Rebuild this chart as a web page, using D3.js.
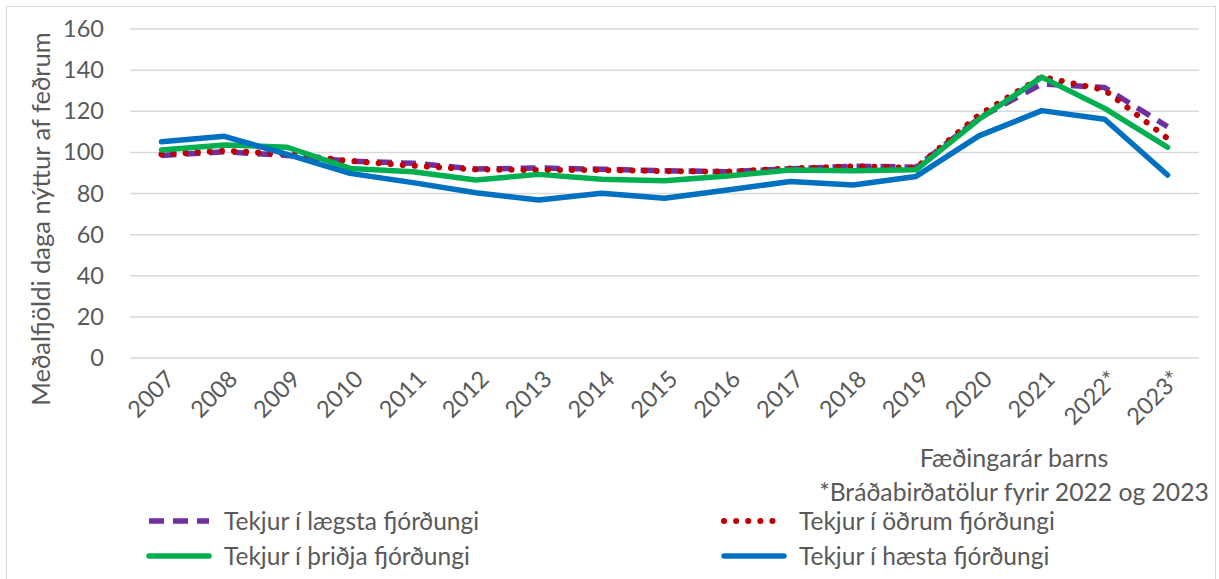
<!DOCTYPE html>
<html>
<head>
<meta charset="utf-8">
<script src="https://cdn.jsdelivr.net/npm/d3@7"></script>
<style>
  body { margin: 0; background: #fff; }
  text { font-family: Lato, "Open Sans", sans-serif; fill: #595959; }
</style>
</head>
<body>
<svg id="chart" width="1219" height="579"></svg>
<script>
// data
var years = ["2007","2008","2009","2010","2011","2012","2013","2014","2015","2016","2017","2018","2019","2020","2021","2022*","2023*"]
var laegsta = [98.5, 100.3, 98.5, 95.7, 94.7, 91.9, 92.4, 91.8, 91.1, 90.6, 92.0, 93.3, 92.8, 116.6, 133.3, 131.5, 112.5]
var odrum   = [99.0, 100.8, 99.2, 95.8, 93.5, 91.7, 91.4, 91.4, 90.9, 90.6, 92.2, 93.2, 92.5, 118.2, 136.8, 130.3, 106.8]
var thridja = [101.2, 103.6, 102.5, 92.2, 90.6, 86.6, 89.3, 86.9, 86.2, 88.5, 91.4, 91.1, 91.5, 116.1, 136.6, 121.4, 102.5]
var haesta  = [105.2, 107.8, 99.0, 89.8, 85.3, 80.4, 76.8, 80.1, 77.7, 81.7, 85.8, 84.1, 88.3, 108.0, 120.3, 116.1, 89.0]
var yTicks = [0, 20, 40, 60, 80, 100, 120, 140, 160]

var series = [
  {name: "Tekjur í lægsta fjórðungi", values: laegsta, color: "#7030A0", dash: "15,9", cap: "butt", w: 5.5},
  {name: "Tekjur í öðrum fjórðungi", values: odrum, color: "#C00000", dash: "0.1,12", cap: "round", w: 6},
  {name: "Tekjur í þriðja fjórðungi", values: thridja, color: "#00B050", dash: null, cap: "round", w: 5.5},
  {name: "Tekjur í hæsta fjórðungi", values: haesta, color: "#0070C0", dash: null, cap: "round", w: 5.5}
]

var svg = d3.select("#chart")

// frame
svg.append("rect")
  .attr("x", 6.5).attr("y", 6.5)
  .attr("width", 1209).attr("height", 580)
  .attr("fill", "none").attr("stroke", "#D9D9D9")

var x = d3.scaleBand().domain(years).range([130, 1199])
var y = d3.scaleLinear().domain([0, 160]).range([358, 29])

// gridlines
svg.append("g").selectAll("line")
  .data(yTicks)
  .enter().append("line")
  .attr("x1", 130).attr("x2", 1199)
  .attr("y1", function(d){ return y(d) }).attr("y2", function(d){ return y(d) })
  .attr("stroke", "#D9D9D9").attr("stroke-width", 1.5)

// y axis labels
var yAxis = d3.axisLeft(y).tickValues(yTicks).tickSize(0).tickPadding(0)
var yg = svg.append("g").attr("transform", "translate(104,0)").call(yAxis)
yg.select(".domain").remove()
yg.selectAll("text").style("font-size", "23.5px").attr("fill", "#595959")
  .style("font-family", "Lato, 'Open Sans', sans-serif")

// x axis labels
svg.append("g").selectAll("text")
  .data(years)
  .enter().append("text")
  .attr("transform", function(d){ return "translate(" + (x(d) + x.bandwidth()/2 + 3) + ",369) rotate(-45)" })
  .attr("text-anchor", "end")
  .attr("dy", "0.7em")
  .style("font-size", "23.5px")
  .text(function(d){ return d })

// axis title
svg.append("text")
  .attr("transform", "translate(50,219) rotate(-90)")
  .attr("text-anchor", "middle")
  .style("font-size", "25.5px")
  .text("Meðalfjöldi daga nýttur af feðrum")

svg.append("text").attr("x", 1014).attr("y", 467)
  .attr("text-anchor", "middle").style("font-size", "25px")
  .text("Fæðingarár barns")
svg.append("text").attr("x", 1014).attr("y", 501)
  .attr("text-anchor", "middle").style("font-size", "24.7px")
  .text("*Bráðabirðatölur fyrir 2022 og 2023")

// lines
var line = d3.line()
  .x(function(d, i){ return x(years[i]) + x.bandwidth()/2 })
  .y(function(d){ return y(d) })

svg.append("g").selectAll("path")
  .data(series)
  .enter().append("path")
  .attr("d", function(d){ return line(d.values) })
  .attr("fill", "none")
  .attr("stroke", function(d){ return d.color })
  .attr("stroke-width", function(d){ return d.w })
  .attr("stroke-linejoin", "round")
  .attr("stroke-linecap", function(d){ return d.cap })
  .attr("stroke-dasharray", function(d){ return d.dash })

// legend
var legPos = [[147, 521], [722, 521], [147, 556], [722, 556]]
var leg = svg.append("g").selectAll("g")
  .data(series)
  .enter().append("g")
  .attr("transform", function(d, i){ return "translate(" + legPos[i][0] + "," + legPos[i][1] + ")" })
leg.append("line")
  .attr("x1", 2).attr("x2", 62).attr("y1", 0).attr("y2", 0)
  .attr("stroke", function(d){ return d.color })
  .attr("stroke-width", function(d){ return d.w })
  .attr("stroke-linecap", function(d){ return d.cap })
  .attr("stroke-dasharray", function(d){ return d.dash })
leg.append("text")
  .attr("x", 77).attr("y", 0).attr("dy", "0.35em")
  .style("font-size", "24.5px")
  .text(function(d){ return d.name })
</script>
</body>
</html>
